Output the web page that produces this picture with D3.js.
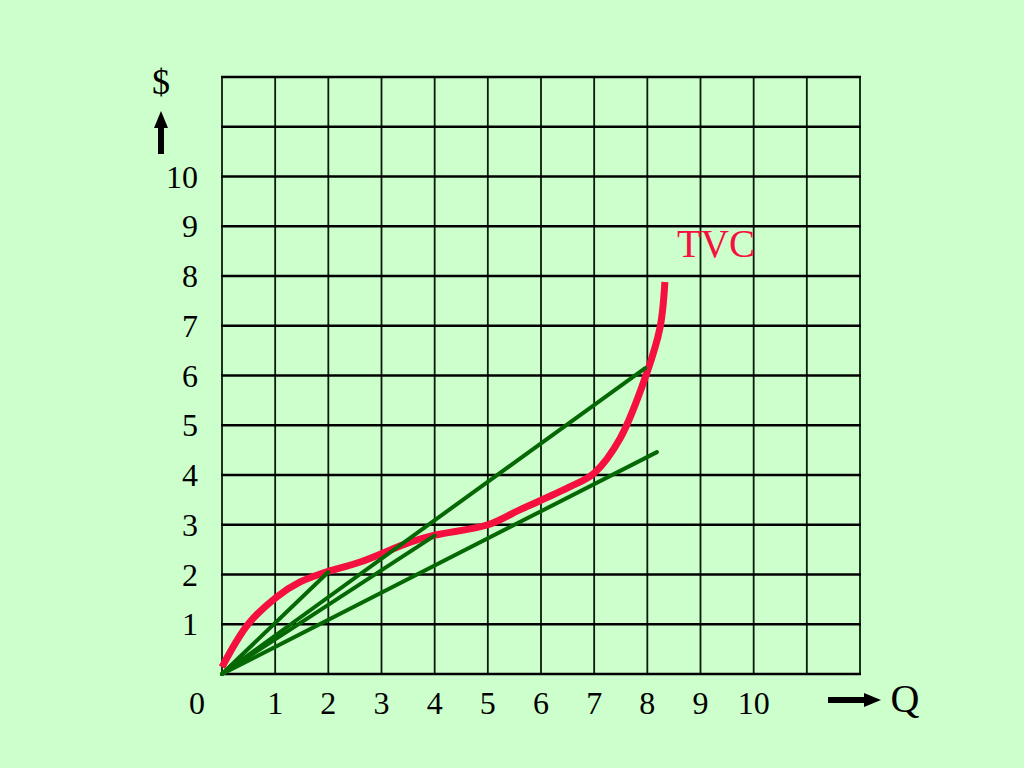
<!DOCTYPE html>
<html>
<head>
<meta charset="utf-8">
<script src="https://cdn.jsdelivr.net/npm/d3@7/dist/d3.min.js"></script>
<style>
html,body{margin:0;padding:0;background:#ccffcc;}
svg{display:block;}
text{font-family:"Liberation Serif","Times New Roman",serif;}
</style>
</head>
<body>
<svg id="chart" width="1024" height="768"></svg>
<script>
// ---- data ----
const gridCount = 12;
const yTicks = [1, 2, 3, 4, 5, 6, 7, 8, 9, 10];
const xTicks = [1, 2, 3, 4, 5, 6, 7, 8, 9, 10];
const tvcQ = [0, 0.49, 1.03, 1.47, 1.9, 2.6, 3.54, 4, 5, 5.6, 6.5, 7.0, 7.49, 7.99, 8.24, 8.33];
const tvcC = [0.14, 1.0, 1.55, 1.85, 2.03, 2.25, 2.65, 2.79, 3.0, 3.3, 3.74, 4.04, 4.74, 6.05, 6.97, 7.88];
const rayQ = [2, 4, 7.96, 8.18];
const rayC = [2.05, 2.78, 6.15, 4.46];
const curveLabel = "TVC";
const yAxisLabel = "$";
const xAxisLabel = "Q";
const originLabel = "0";

// ---- drawing ----
const svg = d3.select("#chart");
svg.append("rect").attr("width", 1024).attr("height", 768).attr("fill", "#ccffcc");

const x = d3.scaleLinear().domain([0, gridCount]).range([222, 860]);
const y = d3.scaleLinear().domain([0, gridCount]).range([674, 77]);
const gridVals = d3.range(0, gridCount + 1);

const g = svg.append("g");
g.selectAll("line.v").data(gridVals).enter().append("line")
  .attr("class", "v")
  .attr("x1", d => x(d)).attr("x2", d => x(d))
  .attr("y1", y(gridCount)).attr("y2", y(0))
  .attr("stroke", "#0a1a0a").attr("stroke-width", 1.8);
g.selectAll("line.h").data(gridVals).enter().append("line")
  .attr("class", "h")
  .attr("x1", x(0) - 1).attr("x2", x(gridCount) + 1)
  .attr("y1", d => y(d)).attr("y2", d => y(d))
  .attr("stroke", "#000").attr("stroke-width", 2.6);

// TVC curve
const tvc = tvcQ.map((q, i) => [q, tvcC[i]]);
const line = d3.line().x(d => x(d[0])).y(d => y(d[1])).curve(d3.curveCatmullRom.alpha(0.5));
svg.append("path").attr("d", line(tvc))
  .attr("fill", "none").attr("stroke", "#f5103f").attr("stroke-width", 7);

// rays from origin
svg.selectAll("line.ray").data(rayQ.map((q, i) => [q, rayC[i]])).enter().append("line")
  .attr("class", "ray")
  .attr("x1", x(0)).attr("y1", y(0))
  .attr("x2", d => x(d[0])).attr("y2", d => y(d[1]))
  .attr("stroke", "#056805").attr("stroke-width", 4).attr("stroke-linecap", "round");

// y tick labels
svg.selectAll("text.yt").data(yTicks).enter().append("text")
  .attr("class", "yt")
  .attr("x", 198).attr("y", d => y(d) + 11)
  .attr("text-anchor", "end").attr("font-size", 32).attr("fill", "#000")
  .text(d => d);

// x tick labels
svg.selectAll("text.xt").data(xTicks).enter().append("text")
  .attr("class", "xt")
  .attr("x", d => x(d)).attr("y", 714)
  .attr("text-anchor", "middle").attr("font-size", 32).attr("fill", "#000")
  .text(d => d);

svg.append("text").attr("x", 197).attr("y", 714).attr("text-anchor", "middle")
  .attr("font-size", 32).text(originLabel);

// $ label and up arrow
svg.append("text").attr("x", 161).attr("y", 94).attr("text-anchor", "middle")
  .attr("font-size", 36).text(yAxisLabel);
svg.append("line").attr("x1", 161).attr("x2", 161).attr("y1", 154).attr("y2", 126)
  .attr("stroke", "#000").attr("stroke-width", 6);
svg.append("path").attr("d", "M154,128 L168,128 L161,111 Z").attr("fill", "#000");

// Q label and right arrow
svg.append("line").attr("x1", 828).attr("x2", 866).attr("y1", 700).attr("y2", 700)
  .attr("stroke", "#000").attr("stroke-width", 6);
svg.append("path").attr("d", "M864,693 L864,707 L881,700 Z").attr("fill", "#000");
svg.append("text").attr("x", 905).attr("y", 712).attr("text-anchor", "middle")
  .attr("font-size", 40).text(xAxisLabel);

// TVC label
svg.append("text").attr("x", 716).attr("y", 257).attr("text-anchor", "middle")
  .attr("font-size", 39).attr("fill", "#f5103f").text(curveLabel);
</script>
</body>
</html>
